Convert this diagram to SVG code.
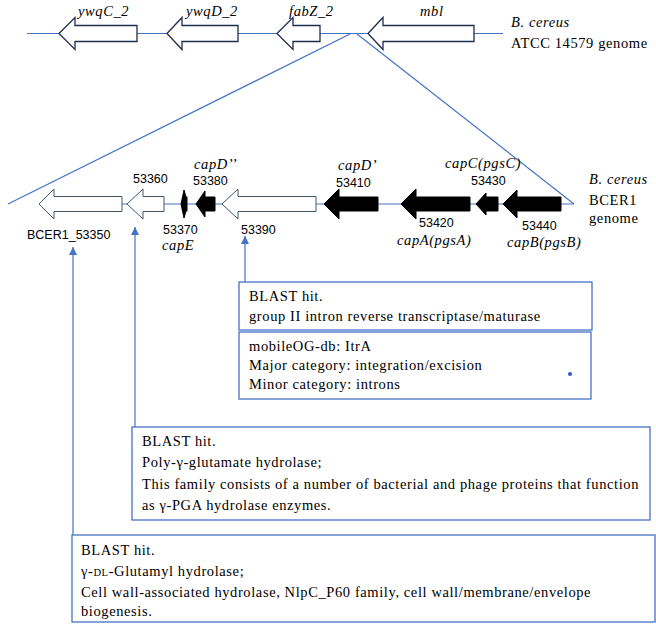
<svg xmlns="http://www.w3.org/2000/svg" width="656" height="632" viewBox="0 0 656 632">
<style>
.go{fill:#fff;stroke:#1F2D4E;stroke-width:1.3}
.gm{fill:#fff;stroke:#44546A;stroke-width:1}
.gf{fill:#000;stroke:#000;stroke-width:1}
.ln{stroke:#4472C4;stroke-width:1.2;fill:none}
.box{fill:#fff;stroke:#4472C4;stroke-width:1.3}
.t{font-family:"Liberation Serif","Times New Roman",serif;font-size:14.5px;letter-spacing:0.6px;fill:#000}
.i{font-style:italic}
.n{font-family:"Liberation Sans",Arial,sans-serif;font-size:12.5px;fill:#000}
</style>
<defs>
<marker id="ah" markerUnits="userSpaceOnUse" markerWidth="10" markerHeight="10" refX="8" refY="4" orient="auto">
<path d="M0,0 L8,4 L0,8 Z" fill="#4472C4"/>
</marker>
</defs>
<g id="connectors">
<line class="ln" x1="27" y1="33.5" x2="503" y2="33.5"/>
<line class="ln" x1="350" y1="34" x2="8" y2="204"/>
<line class="ln" x1="357" y1="34" x2="574" y2="204"/>
<line class="ln" x1="122" y1="204" x2="574" y2="204"/>
<line class="ln" x1="245" y1="282" x2="245" y2="236" marker-end="url(#ah)"/>
<line class="ln" x1="135" y1="427" x2="135" y2="227" marker-end="url(#ah)"/>
<line class="ln" x1="73" y1="535" x2="73" y2="247" marker-end="url(#ah)"/>
</g>
<g id="ref-genome">
<g id="ywqC_2"><polygon class="go" points="59,33.5 75,17.5 75,25.5 137,25.5 137,41.5 75,41.5 75,49.5"/><text class="t i" x="78" y="16" font-size="15">ywqC_2</text></g>
<g id="ywqD_2"><polygon class="go" points="167,33.5 182,17.5 182,25.5 238,25.5 238,41.5 182,41.5 182,49.5"/><text class="t i" x="186" y="16" font-size="15">ywqD_2</text></g>
<g id="fabZ_2"><polygon class="go" points="277,33.5 293,17.5 293,25.5 320,25.5 320,41.5 293,41.5 293,49.5"/><text class="t i" x="289" y="16" font-size="15">fabZ_2</text></g>
<g id="mbl"><polygon class="go" points="368,33.5 383,17.5 383,25.5 474,25.5 474,41.5 383,41.5 383,49.5"/><text class="t i" x="420" y="16" font-size="15">mbl</text></g>
<g id="atcc-label"><text class="t i" x="511" y="27" font-size="15">B. cereus</text><text class="t" x="511" y="48" font-size="15">ATCC 14579 genome</text></g>
</g>
<g id="bcer1-genome">
<g id="g53350"><polygon class="gm" points="39,204 54,189 54,196.5 122,196.5 122,211.5 54,211.5 54,219"/><text class="n" x="27" y="239">BCER1_53350</text></g>
<g id="g53360"><polygon class="gm" points="127,204 143,189 143,196.5 164,196.5 164,211.5 143,211.5 143,219"/><text class="n" x="133" y="183">53360</text></g>
<g id="g53370"><polygon class="gf" points="181,204 184,190 186,197 187,197 187,211 186,211 184,218"/><text class="n" x="163" y="234">53370</text><text class="t i" x="162" y="250">capE</text></g>
<g id="g53380"><polygon class="gf" points="196,204 205,191 205,197 215,197 215,211 205,211 205,217"/><text class="t i" x="194" y="169">capD’’</text><text class="n" x="193" y="185">53380</text></g>
<g id="g53390"><polygon class="gm" points="222,204 238,189 238,196.5 316,196.5 316,211.5 238,211.5 238,219"/><text class="n" x="241" y="234">53390</text></g>
<g id="g53410"><polygon class="gf" points="324,204 339,189 339,197 378,197 378,211 339,211 339,219"/><text class="t i" x="338" y="170">capD’</text><text class="n" x="336" y="187">53410</text></g>
<g id="g53420"><polygon class="gf" points="401,204 416,189 416,197 470,197 470,211 416,211 416,219"/><text class="n" x="419" y="227">53420</text><text class="t i" x="397" y="245">capA(pgsA)</text></g>
<g id="g53430"><polygon class="gf" points="476,204 486,193 486,197 498,197 498,211 486,211 486,215"/><text class="t i" x="445" y="168">capC(pgsC)</text><text class="n" x="471" y="185">53430</text></g>
<g id="g53440"><polygon class="gf" points="503,204 517,190 517,197 561,197 561,211 517,211 517,218"/><text class="n" x="522" y="230">53440</text><text class="t i" x="507" y="247">capB(pgsB)</text></g>
<g id="bcer1-label"><text class="t i" x="589" y="184" font-size="15">B. cereus</text><text class="t" x="589" y="205" font-size="15">BCER1</text><text class="t" x="589" y="223" font-size="15">genome</text></g>
</g>
<g id="box-blast-53390">
<rect class="box" x="239" y="282" width="353" height="48"/>
<text class="t" x="249" y="301">BLAST hit.</text>
<text class="t" x="249" y="321">group II intron reverse transcriptase/maturase</text>
</g>
<g id="box-mobileog">
<rect class="box" x="239" y="332" width="352" height="67"/>
<text class="t" x="249" y="351">mobileOG-db: ItrA</text>
<text class="t" x="249" y="370">Major category: integration/excision</text>
<text class="t" x="249" y="389">Minor category: introns</text>
<circle cx="570" cy="374" r="2" fill="#3355CC"/>
</g>
<g id="box-blast-53360">
<rect class="box" x="132" y="427" width="518" height="93"/>
<text class="t" x="142" y="446">BLAST hit.</text>
<text class="t" x="142" y="467">Poly-γ-glutamate hydrolase;</text>
<text class="t" x="142" y="489">This family consists of a number of bacterial and phage proteins that function</text>
<text class="t" x="142" y="510">as γ-PGA hydrolase enzymes.</text>
</g>
<g id="box-blast-53350">
<rect class="box" x="72" y="535" width="583" height="87"/>
<text class="t" x="81" y="555">BLAST hit.</text>
<text class="t" x="81" y="576">γ-<tspan font-size="10.5">DL</tspan>-Glutamyl hydrolase;</text>
<text class="t" x="81" y="597">Cell wall-associated hydrolase, NlpC_P60 family, cell wall/membrane/envelope</text>
<text class="t" x="81" y="616">biogenesis.</text>
</g>
</svg>
